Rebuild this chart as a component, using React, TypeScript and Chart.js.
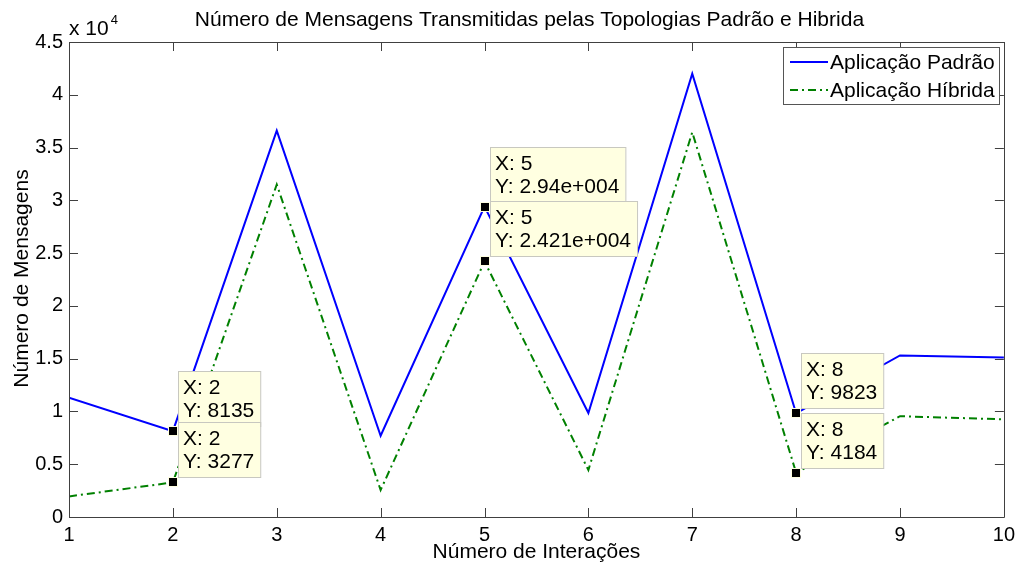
import React, { useEffect, useRef } from 'react';
import { Chart, registerables } from 'chart.js';

Chart.register(...registerables);

const iterations = [1, 2, 3, 4, 5, 6, 7, 8, 9, 10];
const padrao = [11300, 8135, 36600, 7700, 29400, 9850, 42000, 9823, 15300, 15100];
const hibrida = [1950, 3277, 31500, 2550, 24210, 4450, 36450, 4184, 9550, 9250];
const tipIterations = [2, 5, 8];
const seriesLabels = ['Aplicação Padrão', 'Aplicação Híbrida'];
const chartTitle = 'Número de Mensagens Transmitidas pelas Topologias Padrão e Hibrida';
const xTitle = 'Número de Interações';
const yTitle = 'Número de Mensagens';
const yExponent = 4;

const FONT = '"Liberation Sans", Arial, sans-serif';
const AXIS_COLOR = '#404040';

function formatTipY(v: number): string {
  if (Math.abs(v) < 10000) return String(v);
  const [m, e] = v.toExponential(3).split('e');
  const mant = m.replace(/\.?0+$/, '');
  const sign = e[0] === '-' ? '-' : '+';
  const digits = e.replace(/[+-]/, '').padStart(3, '0');
  return `${mant}e${sign}${digits}`;
}

const decorPlugin = {
  id: 'decor',
  afterDraw(chart: any) {
    const ctx: CanvasRenderingContext2D = chart.ctx;
    const { left, right, top, bottom } = chart.chartArea;
    const xs = chart.scales.x;
    const ys = chart.scales.y;
    ctx.save();

    // frame box
    ctx.strokeStyle = AXIS_COLOR;
    ctx.lineWidth = 1;
    ctx.beginPath();
    ctx.rect(Math.round(left) + 0.5, Math.round(top) + 0.5, Math.round(right - left), Math.round(bottom - top));
    ctx.stroke();

    // inward ticks
    const tl = 9;
    ctx.beginPath();
    xs.ticks.forEach((t: any) => {
      const x = Math.round(xs.getPixelForValue(t.value)) + 0.5;
      ctx.moveTo(x, bottom);
      ctx.lineTo(x, bottom - tl);
      ctx.moveTo(x, top);
      ctx.lineTo(x, top + tl);
    });
    ys.ticks.forEach((t: any) => {
      const y = Math.round(ys.getPixelForValue(t.value)) + 0.5;
      ctx.moveTo(left, y);
      ctx.lineTo(left + tl, y);
      ctx.moveTo(right, y);
      ctx.lineTo(right - tl, y);
    });
    ctx.stroke();

    // exponent label
    ctx.fillStyle = '#000';
    ctx.textBaseline = 'alphabetic';
    ctx.textAlign = 'left';
    ctx.font = `21px ${FONT}`;
    ctx.fillText('x 10', left, top - 7);
    const w10 = ctx.measureText('x 10').width;
    ctx.font = `13px ${FONT}`;
    ctx.fillText(String(yExponent), left + w10 + 2, top - 18);

    // title
    ctx.font = `21px ${FONT}`;
    ctx.textAlign = 'center';
    ctx.fillText(chartTitle, (left + right) / 2 - 7, 26);

    // x title
    ctx.fillText(xTitle, (left + right) / 2, 558);

    // y title
    ctx.save();
    ctx.translate(28, (top + bottom) / 2 - 1);
    ctx.rotate(-Math.PI / 2);
    ctx.fillText(yTitle, 0, 0);
    ctx.restore();

    // datatips
    ctx.font = `21px ${FONT}`;
    ctx.textAlign = 'left';
    const boxH = 55;
    tipIterations.forEach((it) => {
      const idx = iterations.indexOf(it);
      chart.data.datasets.forEach((ds: any) => {
        const v = ds.data[idx].y;
        const px = xs.getPixelForValue(it);
        const py = ys.getPixelForValue(v);
        const l1 = `X: ${it}`;
        const l2 = `Y: ${formatTipY(v)}`;
        const w = Math.max(ctx.measureText(l1).width, ctx.measureText(l2).width) + 11;
        const bx = Math.round(px + 5);
        const bb = Math.round(py - 5);
        const bt = bb - boxH;
        ctx.fillStyle = '#ffffe1';
        ctx.fillRect(bx, bt, w, boxH);
        ctx.strokeStyle = '#c8c8c0';
        ctx.lineWidth = 1;
        ctx.strokeRect(bx + 0.5, bt + 0.5, w, boxH);
        ctx.fillStyle = '#000';
        ctx.fillText(l1, bx + 5, bt + 23);
        ctx.fillText(l2, bx + 5, bt + 46);
        // marker
        ctx.fillStyle = '#ffffe1';
        ctx.fillRect(Math.round(px) - 5, Math.round(py) - 5, 10, 10);
        ctx.fillStyle = '#000';
        ctx.fillRect(Math.round(px) - 4, Math.round(py) - 4, 8, 8);
      });
    });

    // legend
    const lx = 783, ly = 47, lw = 216, lh = 57;
    ctx.fillStyle = '#fff';
    ctx.fillRect(lx, ly, lw, lh);
    ctx.strokeStyle = '#555';
    ctx.lineWidth = 1;
    ctx.strokeRect(lx + 0.5, ly + 0.5, lw, lh);
    ctx.font = `21px ${FONT}`;
    ctx.textBaseline = 'middle';
    chart.data.datasets.forEach((ds: any, i: number) => {
      const y = ly + 15 + i * 28;
      ctx.strokeStyle = ds.borderColor;
      ctx.lineWidth = 2;
      ctx.setLineDash(ds.borderDash || []);
      ctx.beginPath();
      ctx.moveTo(lx + 7, y);
      ctx.lineTo(lx + 45, y);
      ctx.stroke();
      ctx.setLineDash([]);
      ctx.fillStyle = '#000';
      ctx.fillText(ds.label, lx + 47, y + 1);
    });

    ctx.restore();
  },
};

export default function App() {
  const ref = useRef<HTMLCanvasElement>(null);
  useEffect(() => {
    if (!ref.current) return;
    const chart = new Chart(ref.current, {
      type: 'line',
      data: {
        datasets: [
          {
            label: seriesLabels[0],
            data: iterations.map((x, i) => ({ x, y: padrao[i] })),
            borderColor: '#0000ff',
            borderWidth: 2,
            pointRadius: 0,
            tension: 0,
            fill: false,
          },
          {
            label: seriesLabels[1],
            data: iterations.map((x, i) => ({ x, y: hibrida[i] })),
            borderColor: '#008000',
            borderWidth: 2,
            borderDash: [8, 4, 2, 4],
            pointRadius: 0,
            tension: 0,
            fill: false,
          },
        ],
      },
      options: {
        animation: false,
        responsive: false,
        maintainAspectRatio: false,
        layout: { padding: { left: 8, top: 42, right: 16, bottom: 0 } },
        plugins: {
          legend: { display: false },
          title: { display: false },
          tooltip: { enabled: false },
        },
        scales: {
          x: {
            type: 'linear',
            min: 1,
            max: 10,
            grid: { display: false, drawTicks: false },
            border: { display: false },
            ticks: {
              stepSize: 1,
              autoSkip: false,
              maxRotation: 0,
              color: '#000',
              padding: 6,
              font: { family: FONT, size: 20 },
            },
            afterFit: (s: any) => {
              s.height = 48;
            },
          },
          y: {
            type: 'linear',
            min: 0,
            max: 45000,
            grid: { display: false, drawTicks: false },
            border: { display: false },
            ticks: {
              stepSize: 5000,
              color: '#000',
              padding: 6,
              font: { family: FONT, size: 20 },
              callback: (v: any) => String(Number(v) / Math.pow(10, yExponent)),
            },
            afterFit: (s: any) => {
              s.width = 61;
            },
          },
        },
      },
      plugins: [decorPlugin],
    });
    return () => chart.destroy();
  }, []);
  return (
    <div style={{ position: 'fixed', left: 0, top: 0, width: 1021, height: 565, background: '#fff' }}>
      <canvas ref={ref} width={1021} height={565} style={{ width: 1021, height: 565 }} />
    </div>
  );
}
